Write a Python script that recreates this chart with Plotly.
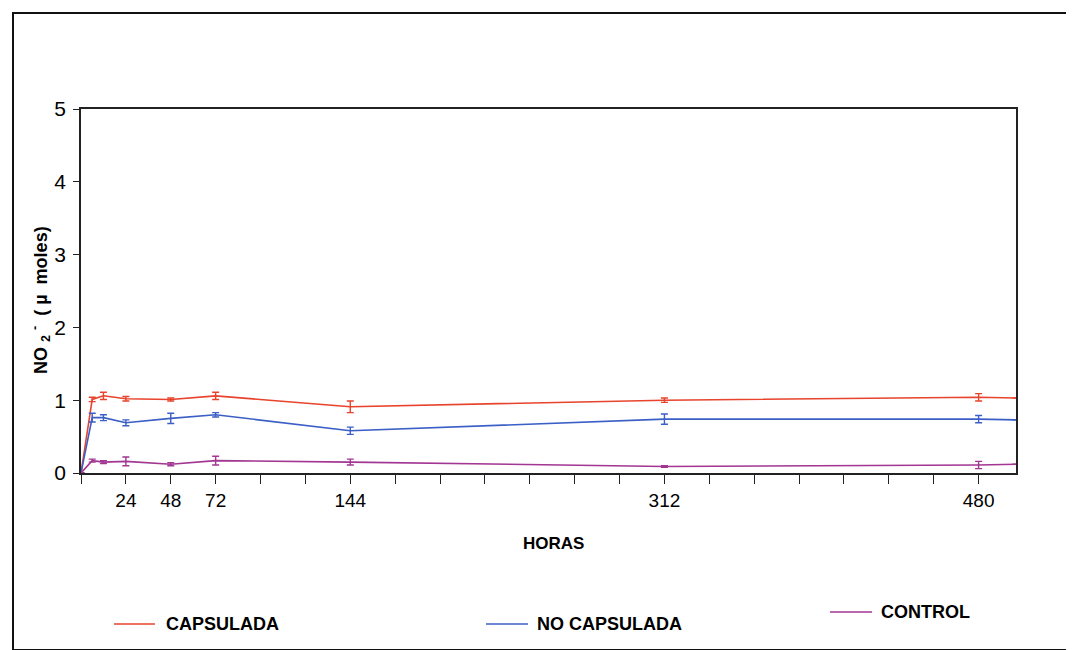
import plotly.graph_objects as go

# ---- data ----
hours = [0, 6, 12, 24, 48, 72, 144, 312, 480, 500]
capsulada = [0, 1.01, 1.06, 1.02, 1.01, 1.06, 0.91, 1.00, 1.04, 1.03]
capsulada_err = [0, 0.03, 0.05, 0.03, 0.02, 0.05, 0.08, 0.03, 0.05, 0]
no_capsulada = [0, 0.76, 0.76, 0.69, 0.75, 0.80, 0.58, 0.74, 0.74, 0.73]
no_capsulada_err = [0, 0.06, 0.04, 0.04, 0.07, 0.03, 0.05, 0.07, 0.05, 0]
control = [0, 0.17, 0.15, 0.16, 0.12, 0.17, 0.15, 0.09, 0.11, 0.12]
control_err = [0, 0.02, 0.02, 0.06, 0.02, 0.06, 0.04, 0.01, 0.05, 0]

series_names = ["CAPSULADA", "NO CAPSULADA", "CONTROL"]
series_colors = ["#e8432c", "#3b5fc6", "#a23692"]

x_labelled = [24, 48, 72, 144, 312, 480]
y_tickvals = [0, 1, 2, 3, 4, 5]

FONT = "Liberation Sans, Arial, sans-serif"

fig = go.Figure()
for name, ys, errs, col in zip(series_names,
                               [capsulada, no_capsulada, control],
                               [capsulada_err, no_capsulada_err, control_err],
                               series_colors):
    fig.add_trace(go.Scatter(
        x=hours, y=ys, name=name, mode="lines",
        line=dict(color=col, width=1.6),
        error_y=dict(type="data", array=errs, visible=True, color=col,
                     thickness=1.4, width=3.5),
        showlegend=False,
    ))

W, H = 1074, 650
L, R, T, B = 73, 66, 101, 185
pw = W - L - R
ph = H - T - B

def px_to_paper(x, y):
    return (x - L) / pw, (H - B - y) / ph

fig.update_layout(
    width=W, height=H,
    margin=dict(l=L, r=R, t=T, b=B),
    paper_bgcolor="white", plot_bgcolor="white",
    font=dict(family=FONT, color="black"),
    xaxis=dict(range=[0, 500], tickvals=x_labelled,
               ticks="outside", ticklen=9, tickwidth=1.3, tickcolor="#222",
               minor=dict(tick0=0, dtick=24, ticks="outside", ticklen=9,
                          tickwidth=1.3, tickcolor="#222", showgrid=False),
               showline=True, linecolor="#222", linewidth=1.5, mirror=True,
               showgrid=False, zeroline=False,
               tickfont=dict(size=19, family=FONT)),
    yaxis=dict(range=[0, 5], tickvals=y_tickvals,
               ticks="outside", ticklen=6, tickwidth=1.3, tickcolor="#222",
               ticklabelstandoff=3,
               showline=True, linecolor="#222", linewidth=1.5, mirror=True,
               showgrid=False, zeroline=False,
               tickfont=dict(size=21, family=FONT)),
)

annotations = []
shapes = []
# y-axis title
ax, ay = px_to_paper(32, 292)
annotations.append(dict(
    xref="paper", yref="paper", x=ax, y=ay, textangle=-90, showarrow=False,
    text="<b>NO <sub>2</sub> <sup>-</sup>  ( µ  moles)</b>",
    font=dict(size=18, family=FONT),
    xanchor="center", yanchor="middle"))
# x-axis title
hx, hy = px_to_paper(545, 535)
annotations.append(dict(
    xref="paper", yref="paper", x=hx, y=hy, showarrow=False, text="<b>HORAS</b>",
    font=dict(size=17, family=FONT), xanchor="center", yanchor="middle"))

# legend entries (line sample + label)
legend_pos = [(106, 147, 156, 616), (478, 520, 527, 616), (822, 864, 871, 604)]
for name, col, (x0, x1, tx, ly) in zip(series_names, series_colors, legend_pos):
    p0x, p0y = px_to_paper(x0, ly)
    p1x, _ = px_to_paper(x1, ly)
    shapes.append(dict(type="line", xref="paper", yref="paper",
                       x0=p0x, x1=p1x, y0=p0y, y1=p0y,
                       line=dict(color=col, width=1.6)))
    ptx, pty = px_to_paper(tx, ly)
    annotations.append(dict(
        xref="paper", yref="paper", x=ptx, y=pty, showarrow=False,
        text=f"<b>{name}</b>", font=dict(size=18, family=FONT),
        xanchor="left", yanchor="middle"))

# outer frame
fx0, fy0 = px_to_paper(5, 642)
fx1, fy1 = px_to_paper(1068, 5)
shapes.append(dict(type="rect", xref="paper", yref="paper",
                   x0=fx0, y0=fy0, x1=fx1, y1=fy1,
                   line=dict(color="#111", width=2), layer="below"))

fig.update_layout(annotations=annotations, shapes=shapes)
fig.write_html("out.html")
